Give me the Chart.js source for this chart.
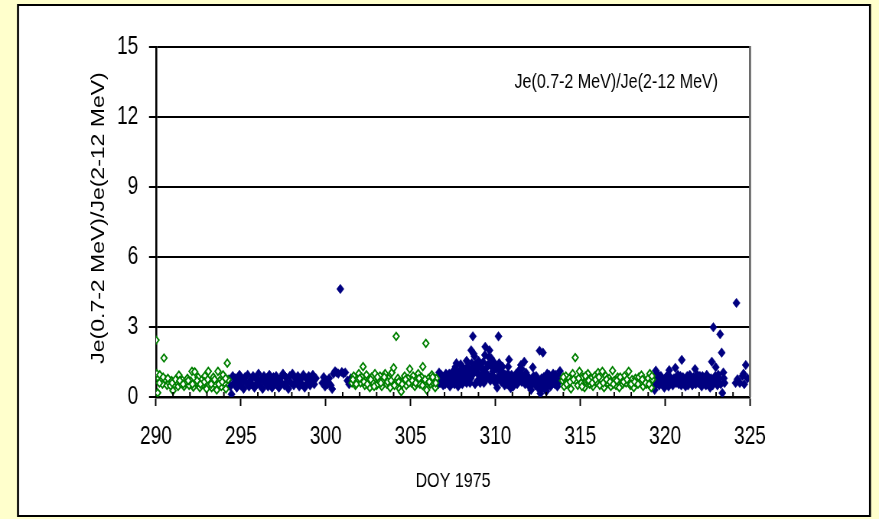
<!DOCTYPE html>
<html>
<head>
<meta charset="utf-8">
<script src="https://cdn.jsdelivr.net/npm/chart.js@4.4.1/dist/chart.umd.min.js"></script>
<style>
  html, body { margin: 0; padding: 0; background: #FFFFCC; overflow: hidden; }
  #wrap { position: absolute; left: 0; top: 0; width: 1149px; height: 519px; transform-origin: 0 0; }
  canvas { display: block; }
</style>
</head>
<body>
<div id="wrap"><canvas id="c" width="1149" height="519"></canvas></div>
<script>
// ---- Data (DOY 1975, ratio Je(0.7-2 MeV)/Je(2-12 MeV)) ----
const xTickLabels = [290, 295, 300, 305, 310, 315, 320, 325];
const yTickLabels = [0, 3, 6, 9, 12, 15];

// green (hollow diamond) segments
const g1Days = [290.00,290.05,290.10,290.15,290.22,290.30,290.38,290.47,290.55,290.65,290.75,290.85,290.92,291.00,291.10,291.20,291.30,291.35,291.45,291.55,291.65,291.75,291.85,291.95,292.05,292.12,292.20,292.28,292.38,292.48,292.58,292.68,292.78,292.88,292.98,293.08,293.18,293.28,293.38,293.48,293.58,293.65,293.75,293.85,293.95,294.05,294.12,294.20,294.25];
const g1Vals = [2.44,1.00,0.18,0.80,0.95,0.70,0.55,1.67,0.75,0.50,0.62,0.48,0.70,0.27,0.52,0.65,0.45,0.94,0.58,0.72,0.45,0.60,0.80,0.50,0.68,1.10,0.42,1.08,0.62,0.85,0.40,0.72,0.55,0.90,0.35,1.10,0.65,0.40,0.85,0.55,0.30,1.10,0.70,0.45,0.95,0.60,0.35,1.45,0.75];
const g1bDays = [290.20,290.42,290.70,290.95,291.15,291.40,291.60,291.90,292.15,292.42,292.62,292.85,293.05,293.25,293.45,293.70,293.90,294.10];
const g1bVals = [0.60,0.85,0.80,0.60,0.75,0.70,0.55,0.70,0.55,0.70,0.55,0.65,0.75,0.55,0.75,0.55,0.65,0.80];

const g2Days = [301.55,301.65,301.75,301.85,301.95,302.05,302.12,302.20,302.30,302.40,302.50,302.60,302.70,302.80,302.90,303.00,303.10,303.20,303.30,303.40,303.50,303.60,303.70,303.80,303.90,304.00,304.08,304.15,304.25,304.35,304.45,304.55,304.65,304.75,304.85,304.95,305.05,305.15,305.25,305.35,305.45,305.55,305.65,305.72,305.80,305.90,305.95,306.05,306.15,306.25,306.35,306.45,306.52];
const g2Vals = [0.60,0.90,0.50,0.75,1.00,0.60,0.85,1.30,0.50,0.95,0.70,0.40,0.85,0.60,1.00,0.50,0.75,0.90,0.45,0.70,1.00,0.55,0.80,0.40,1.05,1.25,0.60,2.60,0.80,0.35,0.23,0.70,0.90,0.50,0.80,1.20,0.60,0.90,0.45,0.75,1.00,0.55,0.85,1.30,0.60,2.30,0.30,0.80,0.55,0.95,0.60,0.40,0.80];
const g2bDays = [301.60,301.80,302.00,302.25,302.45,302.65,302.85,303.05,303.25,303.45,303.65,303.85,304.05,304.30,304.50,304.70,304.90,305.10,305.30,305.50,305.70,305.85,306.10,306.30,306.48];
const g2bVals = [0.75,0.55,0.80,0.65,0.55,0.75,0.45,0.85,0.60,0.85,0.65,0.70,0.50,0.65,0.55,0.75,0.60,0.70,0.60,0.80,0.50,0.75,0.65,0.85,0.60];

const g3Days = [313.95,314.05,314.15,314.25,314.35,314.45,314.55,314.70,314.75,314.85,314.95,315.05,315.15,315.25,315.35,315.45,315.55,315.65,315.75,315.85,315.95,316.05,316.15,316.30,316.40,316.50,316.60,316.70,316.80,316.90,317.00,317.10,317.20,317.30,317.40,317.50,317.60,317.70,317.85,317.95,318.05,318.15,318.25,318.35,318.45,318.60,318.70,318.80,318.90,319.00,319.10,319.18,319.25];
const g3Vals = [0.70,0.45,0.90,0.60,0.80,0.35,1.00,1.69,0.70,0.50,1.10,0.60,0.85,0.40,0.75,1.00,0.55,0.80,0.45,0.90,0.65,1.05,0.50,1.10,0.40,0.90,0.60,0.80,0.45,1.13,0.70,0.50,0.85,0.40,0.70,0.55,0.90,0.60,1.10,0.50,0.75,0.40,0.80,0.60,0.85,0.94,0.45,0.70,0.55,0.80,1.00,0.40,0.75];
const g3bDays = [314.00,314.20,314.40,314.60,314.90,315.10,315.30,315.50,315.70,315.90,316.10,316.35,316.55,316.75,316.95,317.15,317.35,317.55,317.75,318.00,318.20,318.40,318.65,318.85,319.05,319.22];
const g3bVals = [0.85,0.55,0.65,0.75,0.80,0.45,0.90,0.70,0.60,0.75,0.85,0.60,0.75,0.65,0.55,0.70,0.85,0.65,0.75,0.55,0.65,0.55,0.75,0.60,0.55,0.90];

// navy (filled diamond) segments
const n1Days = [294.30,294.38,294.45,294.52,294.60,294.68,294.76,294.84,294.92,295.00,295.08,295.16,295.24,295.32,295.40,295.48,295.56,295.64,295.72,295.80,295.88,295.96,296.04,296.12,296.20,296.28,296.36,296.44,296.52,296.60,296.68,296.76,296.84,296.92,297.00,297.08,297.16,297.24,297.32,297.40,297.48,297.56,297.64,297.72,297.80,297.88,297.96,298.04,298.12,298.20,298.28,298.36,298.44,298.52,298.60,298.68,298.76,298.84,298.92,299.00,299.08,299.16,299.24,299.32,299.42,299.80,299.88,299.96,300.04,300.12,300.20,300.30,300.38,300.46,300.55,300.64,300.74,300.86,300.95,301.05,301.15,301.28,301.38,301.48];
const n1Vals = [0.75,0.45,0.12,0.90,0.60,0.80,0.40,0.70,0.95,0.50,0.75,0.35,0.85,0.60,0.95,0.45,0.70,0.55,0.90,0.40,0.80,0.60,1.00,0.50,0.75,0.35,0.90,0.60,0.80,0.45,0.95,0.65,0.40,0.85,0.55,0.90,0.70,0.40,0.80,0.60,1.00,0.50,0.85,0.65,0.35,0.90,0.60,1.00,0.50,0.80,0.65,0.90,0.45,0.75,0.55,0.95,0.40,0.80,0.60,0.90,0.50,0.75,0.95,0.55,0.80,0.60,0.85,0.45,0.70,0.55,0.80,0.50,0.34,1.00,1.10,1.05,1.00,4.63,1.07,1.00,1.05,0.70,0.55,0.80];

const n2Days = [306.60,306.68,306.76,306.84,306.92,307.00,307.08,307.16,307.24,307.32,307.40,307.50,307.58,307.70,307.80,307.88,307.98,308.05,308.15,308.25,308.35,308.45,308.50,308.57,308.62,308.67,308.76,308.85,308.95,309.05,309.15,309.25,309.32,309.40,309.48,309.58,309.65,309.75,309.85,309.95,310.05,310.10,310.18,310.28,310.38,310.48,310.58,310.68,310.80,310.90,311.00,311.10,311.22,311.35,311.50,311.60,311.70,311.80,311.90,312.00,312.10,312.20,312.30,312.40,312.50,312.60,312.65,312.72,312.80,312.90,313.00,313.05,313.12,313.20,313.30,313.40,313.50,313.60,313.70,313.80];
const n2Vals = [0.80,1.05,0.60,0.90,0.50,0.75,1.00,0.60,0.85,0.45,0.70,1.10,0.55,1.45,0.45,0.90,1.20,0.55,1.00,0.75,1.30,0.90,0.60,2.00,1.20,2.60,1.75,1.10,0.70,1.35,0.90,1.20,0.60,2.15,1.00,1.40,2.00,1.66,1.10,0.80,1.20,0.40,2.60,0.90,1.10,0.70,0.95,0.55,1.60,0.38,0.80,0.60,1.00,0.70,1.37,0.90,1.51,1.04,0.60,0.45,0.30,1.27,0.70,0.90,0.50,1.98,0.15,0.80,1.90,0.60,0.25,1.00,0.50,0.85,0.65,1.00,0.55,0.80,0.60,1.11];
const n2bDays = [306.64,306.72,306.80,306.88,306.96,307.04,307.12,307.20,307.28,307.36,307.45,307.54,307.62,307.66,307.75,307.84,307.93,308.02,308.10,308.20,308.30,308.40,308.55,308.70,308.80,308.90,309.00,309.10,309.20,309.30,309.45,309.55,309.70,309.80,309.90,310.00,310.14,310.24,310.34,310.44,310.54,310.64,310.74,310.85,310.95,311.05,311.15,311.28,311.42,311.55,311.65,311.75,311.85,311.95,312.05,312.15,312.25,312.35,312.45,312.55,312.68,312.76,312.85,312.95,313.08,313.16,313.25,313.35,313.45,313.55,313.65,313.75];
const n2bVals = [0.55,0.85,0.95,0.65,0.85,0.55,0.80,0.70,1.00,0.80,0.60,0.85,0.95,0.70,1.05,0.75,0.60,0.90,0.75,1.15,0.60,1.10,0.80,1.00,0.55,1.25,0.95,0.60,0.85,1.05,0.75,0.90,0.70,0.95,1.30,0.60,0.85,1.15,0.65,0.90,0.50,0.80,1.00,0.70,0.95,0.45,0.85,0.55,0.95,0.65,0.80,0.55,0.75,0.85,0.70,0.55,0.90,0.50,0.75,0.35,0.60,0.40,0.85,0.45,0.70,0.95,0.45,0.80,0.60,0.95,0.45,0.85];
const n2cDays = [307.65,307.95,308.10,308.30,308.42,308.60,308.72,308.82,309.00,309.12,309.28,309.38,309.52,309.62,309.72,309.90,310.02,310.22,310.42,310.75,311.40,311.55];
const n2cVals = [1.30,1.40,1.25,1.55,1.20,1.45,1.85,1.40,1.55,1.25,1.50,1.80,1.30,1.70,1.35,1.50,1.35,1.45,1.30,1.30,1.15,1.20];

const n3Days = [319.30,319.38,319.45,319.55,319.65,319.75,319.85,319.95,320.05,320.15,320.24,320.35,320.45,320.60,320.70,320.80,320.90,320.98,321.10,321.20,321.30,321.40,321.50,321.60,321.76,321.85,321.95,322.05,322.15,322.25,322.35,322.45,322.55,322.65,322.75,322.84,322.90,322.98,323.08,323.18,323.24,323.33,323.37,323.43,323.50,324.15,324.20,324.26,324.40,324.55,324.62,324.66,324.75,324.85];
const n3Vals = [0.60,0.30,1.13,0.80,0.50,0.90,0.65,0.40,0.85,0.60,1.15,0.75,0.50,1.25,0.80,0.55,0.90,1.59,0.70,0.45,0.90,0.60,0.80,0.50,1.20,0.85,0.60,0.90,0.45,0.75,0.55,0.95,0.65,0.40,1.51,2.99,0.70,1.28,0.50,0.80,2.69,1.90,0.17,1.05,0.60,0.60,4.03,0.76,0.60,0.90,1.00,0.55,1.37,0.80];
const n3bDays = [319.34,319.50,319.60,319.70,319.80,319.90,320.00,320.10,320.20,320.30,320.40,320.52,320.65,320.75,320.85,320.95,321.05,321.15,321.25,321.35,321.45,321.55,321.68,321.80,321.90,322.00,322.10,322.20,322.30,322.40,322.50,322.60,322.70,322.80,322.95,323.03,323.13,323.28,323.46];
const n3bVals = [0.85,0.55,0.95,0.60,0.80,0.70,0.55,0.90,0.45,0.85,0.65,0.80,0.60,0.95,0.70,0.50,0.85,0.65,0.75,0.50,0.95,0.70,0.85,0.55,0.95,0.70,0.60,0.90,0.70,0.50,0.85,0.55,0.80,0.50,0.90,0.65,0.95,0.55,0.80];

const legendText = 'Je(0.7-2 MeV)/Je(2-12 MeV)';
const yTitle = 'Je(0.7-2 MeV)/Je(2-12 MeV)';
const xTitle = 'DOY 1975';

// ---- the reference is horizontally condensed; draw wide, then squeeze ----
const K = 0.765;
const sx = v => v / K;                 // screen x -> canvas x
document.getElementById('wrap').style.transform = 'scaleX(' + K + ')';

function pts(days, vals) { return days.map((d, i) => ({ x: d, y: vals[i] })); }
const greenPts = [].concat(
  pts(g1Days, g1Vals), pts(g1bDays, g1bVals),
  pts(g2Days, g2Vals), pts(g2bDays, g2bVals),
  pts(g3Days, g3Vals), pts(g3bDays, g3bVals));
const navyPts = [].concat(
  pts(n1Days, n1Vals),
  pts(n2Days, n2Vals), pts(n2bDays, n2bVals), pts(n2cDays, n2cVals),
  pts(n3Days, n3Vals), pts(n3bDays, n3bVals));

const FONT = "'Liberation Sans', Arial, Helvetica, sans-serif";
const PLOT_L = sx(156), PLOT_R = sx(750);
const CW = 1149;

const decor = {
  id: 'decor',
  beforeDraw(chart) {
    const ctx = chart.ctx;
    ctx.save();
    ctx.fillStyle = '#FFFFCC';
    ctx.fillRect(0, 0, chart.width, chart.height);
    const bl = sx(18), br = sx(870);
    ctx.fillStyle = '#FFFFFF';
    ctx.fillRect(bl, 5, br - bl, 511);
    ctx.strokeStyle = '#000000';
    ctx.lineWidth = 2;
    ctx.beginPath();
    ctx.moveTo(bl, 5); ctx.lineTo(br, 5);
    ctx.moveTo(bl, 516); ctx.lineTo(br, 516);
    ctx.stroke();
    ctx.lineWidth = sx(2);
    ctx.beginPath();
    ctx.moveTo(bl, 4); ctx.lineTo(bl, 517);
    ctx.moveTo(br, 4); ctx.lineTo(br, 517);
    ctx.stroke();
    ctx.restore();
  },
  afterDraw(chart) {
    const ctx = chart.ctx;
    const a = chart.chartArea;
    const xs = chart.scales.x;
    ctx.save();
    // right border of plot area
    ctx.strokeStyle = '#606060';
    ctx.lineWidth = sx(2);
    ctx.beginPath();
    ctx.moveTo(a.right, a.top - 1);
    ctx.lineTo(a.right, a.bottom);
    ctx.stroke();
    // minor ticks (pointing up into the plot)
    ctx.strokeStyle = '#000000';
    ctx.lineWidth = sx(1.5);
    xs.ticks.forEach(t => {
      if (!xTickLabels.includes(t.value)) {
        const px = xs.getPixelForValue(t.value);
        ctx.beginPath();
        ctx.moveTo(px, a.bottom);
        ctx.lineTo(px, a.bottom - 5);
        ctx.stroke();
      }
    });
    // titles
    ctx.fillStyle = '#000000';
    ctx.textAlign = 'center';
    ctx.textBaseline = 'middle';
    ctx.font = '21px ' + FONT;
    ctx.fillText(xTitle, (a.left + a.right) / 2, 481);
    ctx.save();
    ctx.font = '23px ' + FONT;
    ctx.translate(sx(99), (a.top + a.bottom) / 2 - 4);
    ctx.rotate(-Math.PI / 2);
    ctx.fillText(yTitle, 0, 0);
    ctx.restore();
    ctx.font = '21px ' + FONT;
    ctx.textAlign = 'right';
    ctx.fillText(legendText, sx(718), 82);
    ctx.restore();
  }
};

new Chart(document.getElementById('c'), {
  type: 'scatter',
  data: {
    datasets: [
      {
        label: 'green',
        data: greenPts,
        pointStyle: 'rectRot',
        pointRadius: 3.8,
        pointBorderWidth: 1.8,
        pointBorderColor: '#008000',
        pointBackgroundColor: '#FFFFFF',
        showLine: false
      },
      {
        label: 'navy',
        data: navyPts,
        pointStyle: 'rectRot',
        pointRadius: 4.8,
        pointBorderWidth: 0.5,
        pointBorderColor: '#000080',
        pointBackgroundColor: '#000080',
        showLine: false
      }
    ]
  },
  options: {
    responsive: false,
    devicePixelRatio: 1,
    animation: false,
    events: [],
    layout: { padding: { left: 0, right: CW - PLOT_R, top: 47, bottom: 0 } },
    plugins: { legend: { display: false }, tooltip: { enabled: false }, title: { display: false } },
    scales: {
      x: {
        type: 'linear',
        min: xTickLabels[0],
        max: xTickLabels[xTickLabels.length - 1],
        afterFit(s) { s.height = 122; },
        afterBuildTicks(s) {
          const t = [];
          for (let v = s.min; v <= s.max; v++) t.push({ value: v });
          s.ticks = t;
        },
        ticks: {
          autoSkip: false,
          maxRotation: 0,
          padding: 16,
          color: '#000000',
          font: { family: FONT, size: 25 },
          callback: v => (xTickLabels.includes(v) ? String(v) : '')
        },
        grid: {
          drawOnChartArea: false,
          drawTicks: true,
          tickLength: 9,
          tickWidth: sx(1.5),
          tickColor: c => (c.tick && xTickLabels.includes(c.tick.value) ? '#000000' : 'rgba(0,0,0,0)')
        },
        border: { display: true, color: '#000000', width: 2.5 }
      },
      y: {
        type: 'linear',
        min: yTickLabels[0],
        max: yTickLabels[yTickLabels.length - 1],
        afterFit(s) { s.width = PLOT_L; },
        afterBuildTicks(s) { s.ticks = yTickLabels.map(v => ({ value: v })); },
        ticks: {
          padding: 14,
          color: '#000000',
          font: { family: FONT, size: 25 }
        },
        grid: {
          color: '#000000',
          lineWidth: 2,
          drawTicks: true,
          tickLength: sx(7),
          tickColor: '#000000'
        },
        border: { display: true, color: '#000000', width: sx(2) }
      }
    }
  },
  plugins: [decor]
});
</script>
</body>
</html>
